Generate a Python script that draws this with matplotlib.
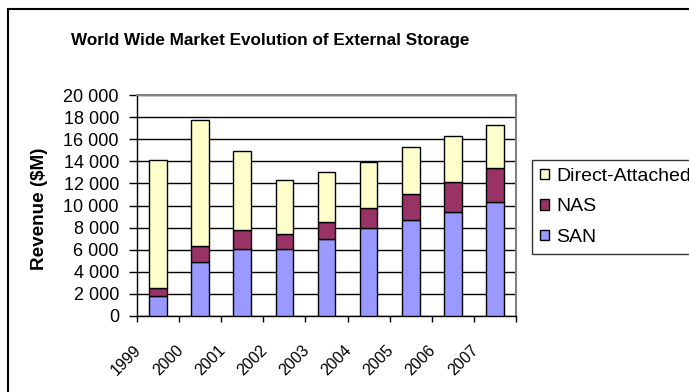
import matplotlib
matplotlib.use("Agg")
import matplotlib.pyplot as plt
import matplotlib.transforms as mtransforms
from matplotlib.patches import Rectangle
import numpy as np

# ---- data ($M) ----
years = ["1999", "2000", "2001", "2002", "2003", "2004", "2005", "2006", "2007"]
san = [1800, 4900, 6100, 6100, 7000, 7950, 8700, 9400, 10300]
nas = [700, 1400, 1650, 1300, 1500, 1850, 2300, 2700, 3100]
direct_attached = [11600, 11450, 7150, 4950, 4550, 4150, 4250, 4200, 3850]

plt.rcParams['font.family'] = ['Liberation Sans', 'DejaVu Sans']

fig = plt.figure(figsize=(6.89, 3.92), dpi=100)
ax = fig.add_axes([137/689, 1 - 316/392, 379/689, 221/392])

x = np.arange(len(years))
w = 0.42
b1 = ax.bar(x, san, w, color="#9999FF", edgecolor="black", linewidth=1, zorder=3)
b2 = ax.bar(x, nas, w, bottom=san, color="#993366", edgecolor="black", linewidth=1, zorder=3)
bottom2 = np.array(san) + np.array(nas)
b3 = ax.bar(x, direct_attached, w, bottom=bottom2, color="#FFFFCC", edgecolor="black", linewidth=1, zorder=3)

ax.set_xlim(-0.5, len(years) - 0.5)
ax.set_ylim(0, 20000)
ax.set_yticks(range(0, 20001, 2000))
ax.set_yticklabels([f"{v:,}".replace(",", " ") for v in range(0, 20001, 2000)], fontsize=13)
ax.yaxis.grid(True, color="black", linewidth=1, zorder=0)
ax.tick_params(axis='y', direction='out', length=6, width=1, pad=7)

# tick marks between categories, labels at centres
ax.set_xticks(np.arange(len(years) + 1) - 0.5)
ax.set_xticklabels([])
ax.tick_params(axis='x', which='major', direction='out', length=4, width=1)
ax.set_xticks(x, minor=True)
ax.set_xticklabels(years, minor=True, rotation=45, ha='right', va='top', fontsize=11.5)
ax.tick_params(axis='x', which='minor', length=0, pad=19)
shift = mtransforms.ScaledTranslation(-14/100, 0, fig.dpi_scale_trans)
for lab in ax.get_xticklabels(minor=True):
    lab.set_transform(lab.get_transform() + shift)

for s in ['left', 'bottom']:
    ax.spines[s].set_color('black')
    ax.spines[s].set_linewidth(1)
for s in ['top', 'right']:
    ax.spines[s].set_color('#808080')
    ax.spines[s].set_linewidth(1.5)
ax.set_axisbelow(True)

fig.text(270/689, 1 - 41/392, "World Wide Market Evolution of External Storage",
         ha='center', va='center', fontsize=12.3, fontweight='bold')
fig.text(40/689, 1 - 209/392, "Revenue ($M)", rotation=90, ha='center', va='center',
         fontsize=13.6, fontweight='bold')

leg = fig.legend([b3, b2, b1], ["Direct-Attached", "NAS", "SAN"],
                 loc='upper left', bbox_to_anchor=(532/689, 0.3, 0.3, 1 - 160/392 - 0.3),
                 mode='expand', fontsize=14, frameon=True, fancybox=False,
                 borderaxespad=0, borderpad=0.4, handlelength=0.47, handleheight=0.47,
                 handletextpad=0.36, labelspacing=0.7)
leg.get_frame().set_edgecolor('black')
leg.get_frame().set_linewidth(1)

# outer chart border (runs off the right and bottom of the image)
fig.patches.append(Rectangle((8/689, -0.2), 1.0, 1.2 - 9/392, transform=fig.transFigure,
                             fill=False, edgecolor='black', linewidth=1.5))

fig.savefig("out.png", dpi=100)
